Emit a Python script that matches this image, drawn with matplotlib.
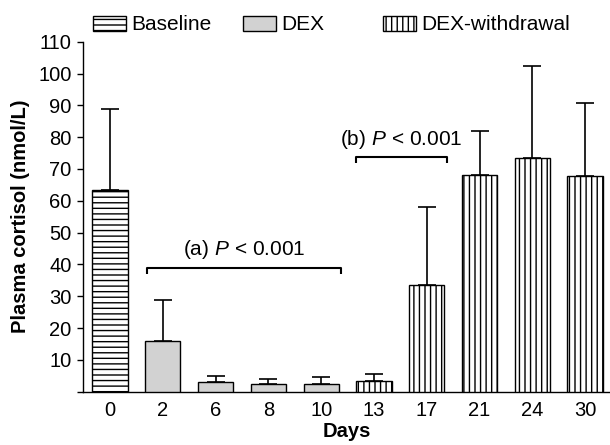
import numpy as np
import matplotlib.pyplot as plt
from matplotlib.patches import Patch

plt.rcParams['font.family'] = ['Liberation Sans', 'DejaVu Sans']
plt.rcParams['mathtext.fontset'] = 'custom'
plt.rcParams['mathtext.rm'] = 'Liberation Sans'
plt.rcParams['mathtext.it'] = 'Liberation Sans:italic'
plt.rcParams['hatch.linewidth'] = 1.0

# data
days = ["0", "2", "6", "8", "10", "13", "17", "21", "24", "30"]
group = ["base", "dex", "dex", "dex", "dex", "wd", "wd", "wd", "wd", "wd"]
cortisol = [63.5, 15.9, 3.2, 2.3, 2.5, 3.5, 33.5, 68.0, 73.5, 67.8]
sd = [25.2, 12.9, 1.6, 1.8, 2.0, 2.2, 24.5, 14.0, 29.0, 23.0]

# significance brackets: (x start, x end, y level, label)
brackets = [(0.71, 4.37, 39.0, "(a) $P$ < 0.001"),
            (4.65, 6.39, 73.8, "(b) $P$ < 0.001")]

styles = {"base": dict(facecolor="white", hatch="---"),
          "dex": dict(facecolor="#d2d2d2", hatch=None),
          "wd": dict(facecolor="white", hatch="|||")}

fig = plt.figure(figsize=(6.1, 4.45), dpi=100)
ax = fig.add_axes([0.1361, 0.1198, 0.8639, 0.7865])

x = np.arange(len(days))
for i in range(len(days)):
    st = styles[group[i]]
    ax.bar(x[i], cortisol[i], width=0.67, facecolor=st["facecolor"],
           hatch=st["hatch"], edgecolor="black", linewidth=1.0, zorder=3)

ax.errorbar(x, cortisol, yerr=[np.zeros(len(sd)), sd], fmt="none",
            ecolor="black", elinewidth=1.2, capsize=6.8, capthick=1.2, zorder=2)

for x0, x1, yb, lab in brackets:
    ax.plot([x0, x0, x1, x1], [yb - 2.0, yb, yb, yb - 2.0], color="black",
            lw=1.5, solid_capstyle="butt", clip_on=False)
    ax.text((x0 + x1) / 2, yb + 2.0, lab, ha="center", va="bottom", fontsize=15)

ax.set_xlim(-0.511, 9.47)
ax.set_ylim(0, 110)
ax.set_xticks(x)
ax.set_xticklabels(days)
ax.set_yticks(np.arange(0, 111, 10))
ax.set_yticklabels([""] + [str(v) for v in range(10, 111, 10)])
ax.tick_params(axis="x", length=0, pad=7, labelsize=14.5)
ax.tick_params(axis="y", length=4.3, width=1.0, pad=4, labelsize=14.5)
for s in ["top", "right"]:
    ax.spines[s].set_visible(False)
ax.spines["left"].set_linewidth(1.0)
ax.spines["bottom"].set_linewidth(1.0)

ax.set_xlabel("Days", fontsize=14.5, fontweight="bold", labelpad=1)
ax.set_ylabel("Plasma cortisol (nmol/L)", fontsize=14.5, fontweight="bold", labelpad=6)

legend_items = [("Baseline", "base", 0.1525), ("DEX", "dex", 0.398), ("DEX-withdrawal", "wd", 0.628)]
for name, key, lx in legend_items:
    st = styles[key]
    h = Patch(facecolor=st["facecolor"], hatch=st["hatch"], edgecolor="black", linewidth=1.0)
    fig.legend([h], [name], loc="center left", bbox_to_anchor=(lx, 0.944),
               frameon=False, fontsize=15, handlelength=1.6, handleheight=0.75,
               handletextpad=0.25, borderpad=0, borderaxespad=0)

fig.savefig("out.png", dpi=100)
